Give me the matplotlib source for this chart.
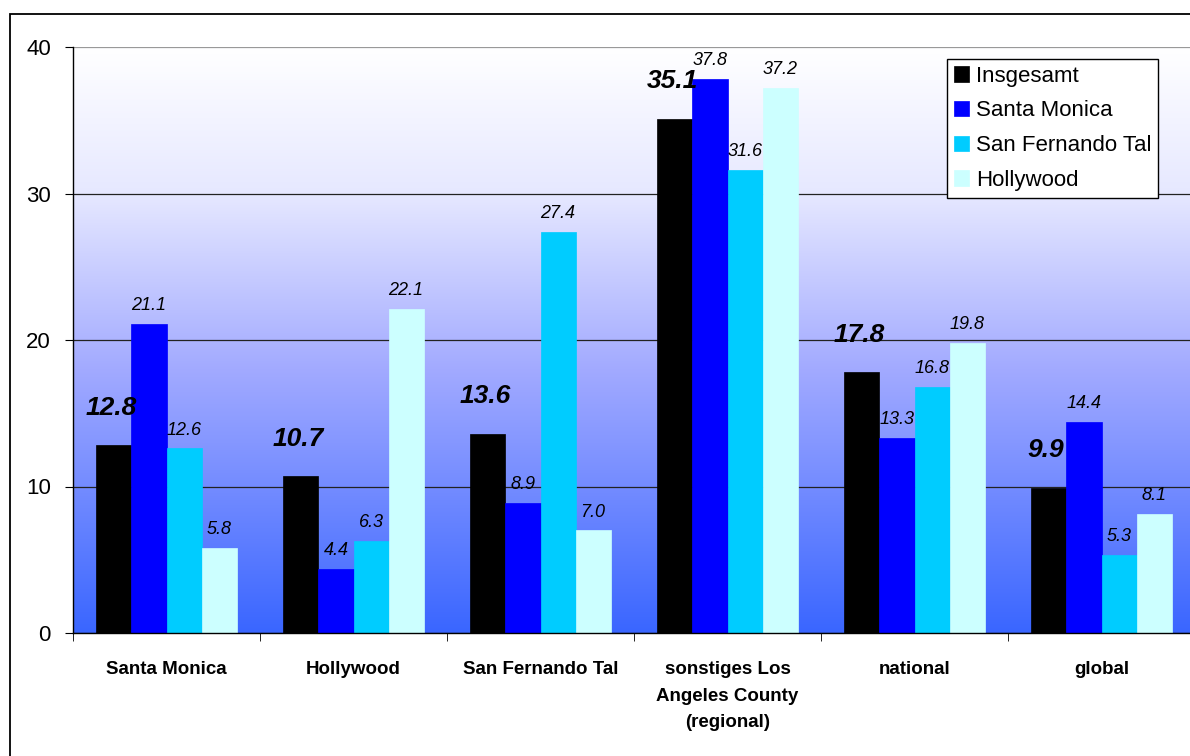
import matplotlib
matplotlib.use("Agg")
import matplotlib.pyplot as plt
import numpy as np
from matplotlib.colors import LinearSegmentedColormap
from matplotlib.patches import Rectangle

plt.rcParams["font.family"] = ["Liberation Sans", "DejaVu Sans"]

categories = [
    "Santa Monica",
    "Hollywood",
    "San Fernando Tal",
    "sonstiges Los\nAngeles County\n(regional)",
    "national",
    "global",
]
series_names = ["Insgesamt", "Santa Monica", "San Fernando Tal", "Hollywood"]
insgesamt = [12.8, 10.7, 13.6, 35.1, 17.8, 9.9]
santa_monica = [21.1, 4.4, 8.9, 37.8, 13.3, 14.4]
san_fernando = [12.6, 6.3, 27.4, 31.6, 16.8, 5.3]
hollywood = [5.8, 22.1, 7.0, 37.2, 19.8, 8.1]
y_ticks = [0, 10, 20, 30, 40]

series = [insgesamt, santa_monica, san_fernando, hollywood]
colors = ["#000000", "#0000FF", "#00CCFF", "#CCFFFF"]

fig = plt.figure(figsize=(11.9, 7.56), dpi=100)
W, H = 1190, 756
ax = fig.add_axes([73 / W, (H - 633) / H, 1122 / W, 586 / H])

# outer chart frame
fig.patches.append(Rectangle((10 / W, -0.1), 1.2, 1.1 - 14 / H,
                             transform=fig.transFigure, fill=False,
                             edgecolor="black", linewidth=1.3, zorder=5))

# background gradient: white at the top fading to blue
cmap = LinearSegmentedColormap.from_list(
    "bg", [(0.0, "#FFFFFF"), (0.25, "#E6E8FF"), (0.55, "#A2AAFF"), (1.0, "#3A66FF")])
grad = np.linspace(0, 1, 256).reshape(-1, 1)
ax.imshow(grad, cmap=cmap, aspect="auto", extent=(-0.5, 5.5, 0, 40),
          origin="upper", zorder=0)

x = np.arange(len(categories))
bw = 0.1875
for i, (vals, c, name) in enumerate(zip(series, colors, series_names)):
    pos = x + (i - 1.5) * bw
    ax.bar(pos, vals, bw, color=c, edgecolor=c, linewidth=0.5, label=name, zorder=2)
    for px, v in zip(pos, vals):
        if i == 0:
            ax.annotate(f"{v:.1f}", (px, v), xytext=(-2, 22), textcoords="offset points",
                        ha="center", va="baseline", fontsize=19,
                        fontweight="bold", fontstyle="italic", zorder=4)
        else:
            ax.annotate(f"{v:.1f}", (px, v), xytext=(0, 10), textcoords="offset points",
                        ha="center", va="baseline", fontsize=13,
                        fontstyle="italic", zorder=4)

ax.set_xlim(-0.5, 5.5)
ax.set_ylim(0, 40)
ax.set_yticks(y_ticks)
ax.tick_params(axis="y", labelsize=16, length=6, pad=10, direction="out")

ax.set_xticks(x)
ax.set_xticklabels(categories, fontsize=13.5, fontweight="bold", linespacing=1.75)
ax.set_xticks(np.arange(-0.5, 6, 1), minor=True)
ax.tick_params(axis="x", which="major", length=0, pad=20)
ax.tick_params(axis="x", which="minor", length=6, direction="out")

ax.set_axisbelow(True)
ax.yaxis.grid(True, color="#222222", linewidth=0.9)
ax.get_ygridlines()[-1].set_color("#999999")

ax.spines["top"].set_visible(False)
ax.spines["right"].set_visible(False)
for s in ("left", "bottom"):
    ax.spines[s].set_linewidth(1.0)

leg = ax.legend(loc="upper left", bbox_to_anchor=(947 / W, 1 - 59 / H),
                bbox_transform=fig.transFigure, borderaxespad=0, fontsize=16,
                frameon=True, fancybox=False, framealpha=1, edgecolor="black",
                handlelength=0.7, handleheight=0.7, handletextpad=0.3,
                labelspacing=0.62, borderpad=0.3)
leg.get_frame().set_linewidth(1.0)
leg.set_zorder(6)

fig.savefig("out.png", dpi=100)
